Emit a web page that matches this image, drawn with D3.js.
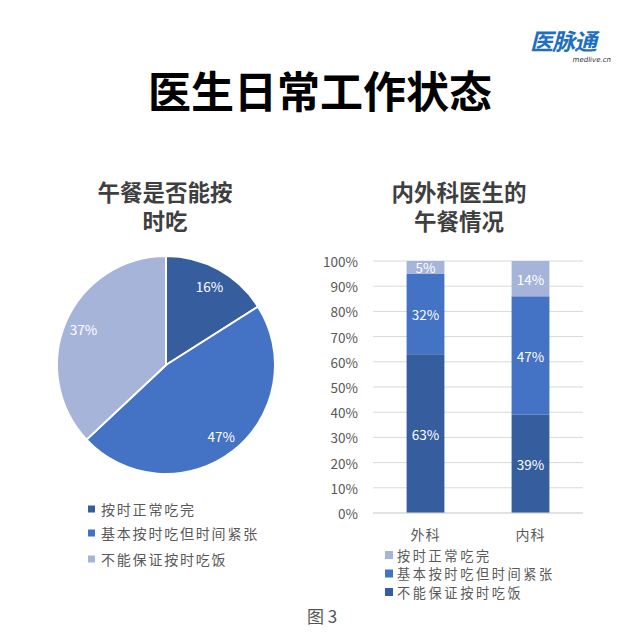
<!DOCTYPE html>
<html><head><meta charset="utf-8">
<script src="https://cdn.jsdelivr.net/npm/d3@7/dist/d3.min.js"></script>
<style>
html,body{margin:0;padding:0;background:#fff;}
svg{display:block;font-family:"Noto Sans CJK SC","Noto Sans",sans-serif;}
</style></head>
<body>
<script>
// ---- data ----
const mainTitle = "医生日常工作状态";
const pieTitle = ["午餐是否能按", "时吃"];
const pieCategories = ["按时正常吃完", "基本按时吃但时间紧张", "不能保证按时吃饭"];
const pieValues = [16, 47, 37];

const barTitle = ["内外科医生的", "午餐情况"];
const barCategories = ["外科", "内科"];
const barSeries = ["不能保证按时吃饭", "基本按时吃但时间紧张", "按时正常吃完"];
const barValues = {
  "不能保证按时吃饭": [63, 39],
  "基本按时吃但时间紧张": [32, 47],
  "按时正常吃完": [5, 14]
};
const yTicks = [0, 10, 20, 30, 40, 50, 60, 70, 80, 90, 100];
const figLabel = "图 3";

// ---- style ----
const DARK = "#365E9F", MED = "#4472C4", LIGHT = "#A6B4DA";
const pieColors = [DARK, MED, LIGHT];
const barColor = {"不能保证按时吃饭": DARK, "基本按时吃但时间紧张": MED, "按时正常吃完": LIGHT};

const W = 640, H = 639;
const svg = d3.select("body").append("svg").attr("width", W).attr("height", H);

// logo
const logo = svg.append("g");
logo.append("text").attr("x", 530).attr("y", 40).attr("dominant-baseline", "central")
  .attr("font-size", 23).attr("font-weight", "bold").attr("font-style", "italic")
  .attr("fill", "#1E6FC2").attr("letter-spacing", -1).text("医脉通");
logo.append("text").attr("x", 611).attr("y", 62).attr("text-anchor", "end")
  .attr("font-size", 7).attr("font-style", "italic").attr("fill", "#333")
  .attr("font-family", "DejaVu Sans").text("medlive.cn");

// main title
svg.append("text").attr("x", 320).attr("y", 89).attr("text-anchor", "middle")
  .attr("dominant-baseline", "central").attr("font-size", 43).attr("font-weight", "bold")
  .attr("fill", "#000").text(mainTitle);

// titles
function title(lines, cx) {
  lines.forEach((l, i) => {
    svg.append("text").attr("x", cx).attr("y", 191 + i * 29).attr("text-anchor", "middle")
      .attr("dominant-baseline", "central").attr("font-size", 22.5).attr("font-weight", "bold")
      .attr("fill", "#3F3F3F").text(l);
  });
}
title(pieTitle, 165);
title(barTitle, 459);

// ---- pie ----
const cx = 166, cy = 365, R = 109;
const pie = d3.pie().sort(null).value(d => d);
const arc = d3.arc().innerRadius(0).outerRadius(R);
const labelArc = d3.arc().innerRadius(90).outerRadius(90);
const pg = svg.append("g").attr("transform", `translate(${cx},${cy})`);
const arcs = pie(pieValues);
pg.selectAll("path").data(arcs).join("path")
  .attr("d", arc).attr("fill", (d, i) => pieColors[i])
  .attr("stroke", "#fff").attr("stroke-width", 2);
pg.selectAll("text").data(arcs).join("text")
  .attr("transform", d => `translate(${labelArc.centroid(d)})`)
  .attr("text-anchor", "middle").attr("dominant-baseline", "central")
  .attr("font-size", 13.5).attr("fill", "#fff").text(d => d.data + "%");

// pie legend
const pl = svg.append("g");
pieCategories.forEach((c, i) => {
  const y = [509, 533, 559][i];
  pl.append("rect").attr("x", 88).attr("y", y - 3.5).attr("width", 7).attr("height", 7).attr("fill", pieColors[i]);
  pl.append("text").attr("x", 101).attr("y", y).attr("dominant-baseline", "central")
    .attr("font-size", 14).attr("letter-spacing", 1.8).attr("fill", "#595959").text(c);
});

// ---- bars ----
const x = d3.scaleBand().domain(barCategories).range([373, 583]).paddingInner(0.64).paddingOuter(0.32);
const y = d3.scaleLinear().domain([0, 100]).range([513, 261]);
const bg = svg.append("g");
bg.selectAll("line.grid").data(yTicks).join("line").attr("class", "grid")
  .attr("x1", 373).attr("x2", 583).attr("y1", d => y(d)).attr("y2", d => y(d))
  .attr("stroke", "#D9D9D9").attr("stroke-width", 1);
bg.selectAll("text.yt").data(yTicks).join("text").attr("class", "yt")
  .attr("x", 358).attr("y", d => y(d)).attr("text-anchor", "end").attr("dominant-baseline", "central")
  .attr("font-size", 13.5).attr("fill", "#595959").text(d => d + "%");

const rows = barCategories.map((c, j) => {
  const o = {cat: c};
  barSeries.forEach(s => o[s] = barValues[s][j]);
  return o;
});
const stacked = d3.stack().keys(barSeries)(rows);
stacked.forEach(layer => {
  const g = bg.append("g");
  g.selectAll("rect").data(layer).join("rect")
    .attr("x", d => x(d.data.cat)).attr("width", x.bandwidth())
    .attr("y", d => y(d[1])).attr("height", d => y(d[0]) - y(d[1]))
    .attr("fill", barColor[layer.key]);
  g.selectAll("text").data(layer).join("text")
    .attr("x", d => x(d.data.cat) + x.bandwidth() / 2)
    .attr("y", d => (y(d[0]) + y(d[1])) / 2)
    .attr("text-anchor", "middle").attr("dominant-baseline", "central")
    .attr("font-size", 13.5).attr("fill", "#fff").text(d => (d[1] - d[0]) + "%");
});
bg.append("line").attr("x1", 373).attr("x2", 583).attr("y1", y(0)).attr("y2", y(0))
  .attr("stroke", "#D9D9D9");
bg.selectAll("text.xt").data(barCategories).join("text").attr("class", "xt")
  .attr("x", d => x(d) + x.bandwidth() / 2).attr("y", 534).attr("text-anchor", "middle")
  .attr("dominant-baseline", "central").attr("font-size", 14).attr("letter-spacing", 1)
  .attr("fill", "#595959").text(d => d);

// bar legend
const legendOrder = ["按时正常吃完", "基本按时吃但时间紧张", "不能保证按时吃饭"];
legendOrder.forEach((c, i) => {
  const yy = [555, 573.5, 592][i];
  bg.append("rect").attr("x", 385).attr("y", yy - 4).attr("width", 8).attr("height", 8).attr("fill", barColor[c]);
  bg.append("text").attr("x", 397).attr("y", yy).attr("dominant-baseline", "central")
    .attr("font-size", 13.2).attr("letter-spacing", 2.6).attr("fill", "#595959").text(c);
});

// figure label
svg.append("text").attr("x", 322).attr("y", 615).attr("text-anchor", "middle")
  .attr("dominant-baseline", "central").attr("font-size", 17).attr("fill", "#555").text(figLabel);
</script>
</body></html>
